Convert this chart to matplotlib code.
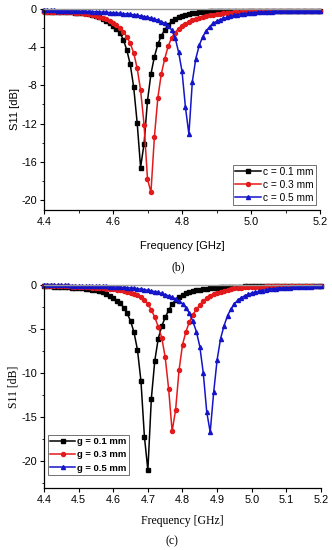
import numpy as np
import matplotlib
matplotlib.use("Agg")
import matplotlib.pyplot as plt
from matplotlib.ticker import MultipleLocator

# Frequency samples (GHz), 4.40 .. 5.20 in 0.01 steps
freq = np.linspace(4.4, 5.2, 81)

# ---- Panel (b): parameter c ----
b_labels = ["c = 0.1 mm", "c = 0.3 mm", "c = 0.5 mm"]
b_c01 = [-0.26, -0.27, -0.28, -0.29, -0.30, -0.31, -0.32, -0.33, -0.35, -0.37,
         -0.38, -0.42, -0.47, -0.54, -0.62, -0.72, -0.85, -1.02, -1.25, -1.48,
         -1.75, -2.1, -2.5, -3.2, -4.3, -5.8, -8.2, -11.9, -16.6, -14.1,
         -9.6, -6.8, -5.0, -3.7, -2.8, -2.2, -1.65, -1.3, -1.05, -0.88,
         -0.74, -0.63, -0.54, -0.47, -0.41, -0.36, -0.32, -0.29, -0.26, -0.24,
         -0.22, -0.21, -0.20, -0.20, -0.19, -0.19, -0.19, -0.18, -0.18, -0.18,
         -0.18, -0.18, -0.18, -0.18, -0.18, -0.18, -0.18, -0.18, -0.18, -0.18,
         -0.18, -0.18, -0.18, -0.18, -0.18, -0.18, -0.18, -0.18, -0.18, -0.18,
         -0.18]
b_c03 = [-0.27, -0.27, -0.28, -0.29, -0.29, -0.30, -0.31, -0.33, -0.35, -0.38,
         -0.41, -0.45, -0.50, -0.56, -0.63, -0.72, -0.82, -0.94, -1.08, -1.25,
         -1.45, -1.7, -2.0, -2.4, -2.9, -3.6, -4.6, -6.2, -8.5, -12.1,
         -17.8, -19.2, -13.4, -9.3, -6.8, -5.2, -3.9, -3.0, -2.5, -2.05,
         -1.75, -1.52, -1.33, -1.17, -1.04, -0.93, -0.84, -0.75, -0.68, -0.61,
         -0.56, -0.51, -0.46, -0.42, -0.38, -0.35, -0.32, -0.30, -0.28, -0.26,
         -0.25, -0.24, -0.23, -0.22, -0.21, -0.21, -0.20, -0.20, -0.20, -0.19,
         -0.19, -0.19, -0.19, -0.19, -0.19, -0.19, -0.19, -0.19, -0.19, -0.19,
         -0.19]
b_c05 = [-0.14, -0.14, -0.15, -0.15, -0.16, -0.17, -0.18, -0.19, -0.20, -0.21,
         -0.22, -0.23, -0.24, -0.26, -0.27, -0.29, -0.31, -0.33, -0.35, -0.37,
         -0.40, -0.42, -0.45, -0.49, -0.52, -0.56, -0.61, -0.66, -0.72, -0.79,
         -0.86, -0.95, -1.05, -1.17, -1.32, -1.5, -1.75, -2.2, -3.0, -4.5,
         -6.5, -10.3, -13.1, -7.6, -5.2, -3.8, -2.9, -2.3, -1.85, -1.5,
         -1.3, -1.13, -0.98, -0.86, -0.76, -0.68, -0.62, -0.55, -0.50, -0.45,
         -0.41, -0.38, -0.35, -0.32, -0.30, -0.28, -0.27, -0.25, -0.24, -0.23,
         -0.22, -0.21, -0.21, -0.20, -0.20, -0.20, -0.19, -0.19, -0.19, -0.19,
         -0.19]

# ---- Panel (c): parameter g ----
c_labels = ["g = 0.1 mm", "g = 0.3 mm", "g = 0.5 mm"]
c_g01 = [-0.17, -0.18, -0.20, -0.21, -0.23, -0.25, -0.28, -0.30, -0.33, -0.36,
         -0.40, -0.43, -0.47, -0.51, -0.56, -0.63, -0.71, -0.84, -1.0, -1.25,
         -1.55, -1.8, -2.1, -2.6, -3.25, -4.1, -5.4, -7.4, -10.9, -17.2,
         -21.0, -12.9, -8.6, -6.1, -4.7, -3.7, -2.9, -2.2, -1.75, -1.4,
         -1.15, -0.98, -0.84, -0.73, -0.64, -0.57, -0.50, -0.44, -0.39, -0.36,
         -0.33, -0.30, -0.28, -0.26, -0.24, -0.23, -0.22, -0.21, -0.20, -0.20,
         -0.19, -0.19, -0.19, -0.18, -0.18, -0.18, -0.18, -0.18, -0.18, -0.18,
         -0.17, -0.17, -0.17, -0.17, -0.17, -0.17, -0.17, -0.17, -0.17, -0.17,
         -0.17]
c_g03 = [-0.12, -0.13, -0.14, -0.15, -0.16, -0.17, -0.18, -0.19, -0.21, -0.22,
         -0.24, -0.26, -0.28, -0.30, -0.32, -0.35, -0.38, -0.41, -0.45, -0.49,
         -0.54, -0.59, -0.65, -0.72, -0.80, -0.90, -1.02, -1.17, -1.38, -1.72,
         -2.2, -2.85, -3.7, -4.75, -6.0, -8.2, -11.8, -16.6, -14.2, -9.7,
         -6.8, -5.3, -4.2, -3.4, -2.8, -2.3, -1.85, -1.5, -1.25, -1.05,
         -0.90, -0.78, -0.68, -0.58, -0.50, -0.43, -0.37, -0.33, -0.30, -0.27,
         -0.25, -0.23, -0.22, -0.21, -0.20, -0.20, -0.19, -0.19, -0.19, -0.18,
         -0.18, -0.18, -0.18, -0.18, -0.18, -0.18, -0.18, -0.18, -0.18, -0.18,
         -0.18]
c_g05 = [-0.06, -0.06, -0.07, -0.07, -0.08, -0.08, -0.09, -0.09, -0.10, -0.11,
         -0.11, -0.12, -0.13, -0.14, -0.15, -0.16, -0.17, -0.19, -0.20, -0.22,
         -0.24, -0.26, -0.28, -0.31, -0.34, -0.37, -0.41, -0.45, -0.50, -0.56,
         -0.63, -0.70, -0.79, -0.88, -0.99, -1.12, -1.26, -1.42, -1.62, -1.86,
         -2.15, -2.6, -3.25, -4.15, -5.3, -7.0, -10.0, -14.4, -16.7, -12.2,
         -8.5, -6.1, -4.65, -3.5, -2.75, -2.15, -1.75, -1.45, -1.25, -1.08,
         -0.95, -0.84, -0.74, -0.66, -0.59, -0.53, -0.48, -0.44, -0.40, -0.37,
         -0.34, -0.32, -0.30, -0.28, -0.26, -0.24, -0.22, -0.21, -0.20, -0.19,
         -0.18]

b_xticks = [4.4, 4.6, 4.8, 5.0, 5.2]
b_yticks = [0, -4, -8, -12, -16, -20]
c_xticks = [4.4, 4.5, 4.6, 4.7, 4.8, 4.9, 5.0, 5.1, 5.2]
c_yticks = [0, -5, -10, -15, -20]

colors = ["#000000", "#e31a1c", "#1414c8"]
markers = ["s", "o", "^"]

SANS = "Liberation Sans"
SERIF = "Liberation Serif"

fig = plt.figure(figsize=(3.32, 5.50), dpi=100)

W, H = 332.0, 550.0
def axrect(l, r, t, b):
    return [l / W, 1 - b / H, (r - l) / W, (b - t) / H]

ax1 = fig.add_axes(axrect(44, 320, 9, 210))
ax2 = fig.add_axes(axrect(44, 321, 284.7, 488.3))

def style(ax, ylim, xticks, yticks, xminor, yminor):
    ax.set_xlim(4.4, 5.2)
    ax.set_ylim(*ylim)
    ax.set_xticks(xticks)
    ax.set_yticks(yticks)
    ax.set_xticklabels([f"{v:.1f}" for v in xticks], fontfamily=SANS, fontsize=7.8)
    ax.set_yticklabels([f"{v:d}" for v in yticks], fontfamily=SANS, fontsize=7.8)
    if xminor:
        ax.xaxis.set_minor_locator(MultipleLocator(xminor))
    if yminor:
        ax.yaxis.set_minor_locator(MultipleLocator(yminor))
    ax.tick_params(which="major", direction="out", length=3, width=0.8, pad=2)
    ax.tick_params(which="minor", direction="out", length=1.8, width=0.6)
    ax.spines["right"].set_visible(False)
    ax.spines["top"].set_color("#999999")
    ax.spines["top"].set_linewidth(1.0)
    ax.spines["left"].set_linewidth(0.9)
    ax.spines["bottom"].set_linewidth(0.9)

def px_to_axes(ax, xpx, ypx):
    # convert figure pixel (from top-left) to axes fraction
    inv = ax.transAxes.inverted()
    return inv.transform(fig.transFigure.transform((xpx / W, 1 - ypx / H)))

# Panel (b)
for ys, lab, col, mk in zip([b_c01, b_c03, b_c05], b_labels, colors, markers):
    ax1.plot(freq, ys, color=col, marker=mk, markersize=2.9, linewidth=1.1,
             label=lab, clip_on=False)
style(ax1, (-21.05, 0), b_xticks, b_yticks, 0.1, 2)
ax1.set_ylabel("S11 [dB]", fontfamily=SANS, fontsize=8, labelpad=1)
ax1.set_xlabel("Frequency [GHz]", fontfamily=SANS, fontsize=8, labelpad=10)
leg1 = ax1.legend(loc="lower right", bbox_to_anchor=tuple(px_to_axes(ax1, 316, 205)),
                  prop={"family": SANS, "size": 7.3},
                  frameon=True, fancybox=False, edgecolor="#333333",
                  handlelength=2.6, handletextpad=0.2, borderpad=0.2,
                  labelspacing=0.3, borderaxespad=0.0)
leg1.get_frame().set_linewidth(0.6)
fig.text(178 / W, 1 - 267 / H, "(b)", fontfamily=SERIF, fontsize=8.5,
         ha="center", va="center")

# Panel (c)
for ys, lab, col, mk in zip([c_g01, c_g03, c_g05], c_labels, colors, markers):
    ax2.plot(freq, ys, color=col, marker=mk, markersize=2.9, linewidth=1.1,
             label=lab, clip_on=False)
style(ax2, (-23.05, 0), c_xticks, c_yticks, None, 2.5)
ax2.set_ylabel("S11 [dB]", fontfamily=SERIF, fontsize=8.5, labelpad=1)
ax2.set_xlabel("Frequency [GHz]", fontfamily=SERIF, fontsize=8.5, labelpad=7)
leg2 = ax2.legend(loc="lower left", bbox_to_anchor=tuple(px_to_axes(ax2, 48, 475)),
                  prop={"family": SANS, "size": 6.8, "weight": "bold"},
                  frameon=True, fancybox=False, edgecolor="#333333",
                  handlelength=2.6, handletextpad=0.2, borderpad=0.25,
                  labelspacing=0.45, borderaxespad=0.0)
leg2.get_frame().set_linewidth(0.6)
fig.text(172 / W, 1 - 541.5 / H, "(c)", fontfamily=SERIF, fontsize=8.5,
         ha="center", va="center")

fig.savefig("out.png", dpi=100)
